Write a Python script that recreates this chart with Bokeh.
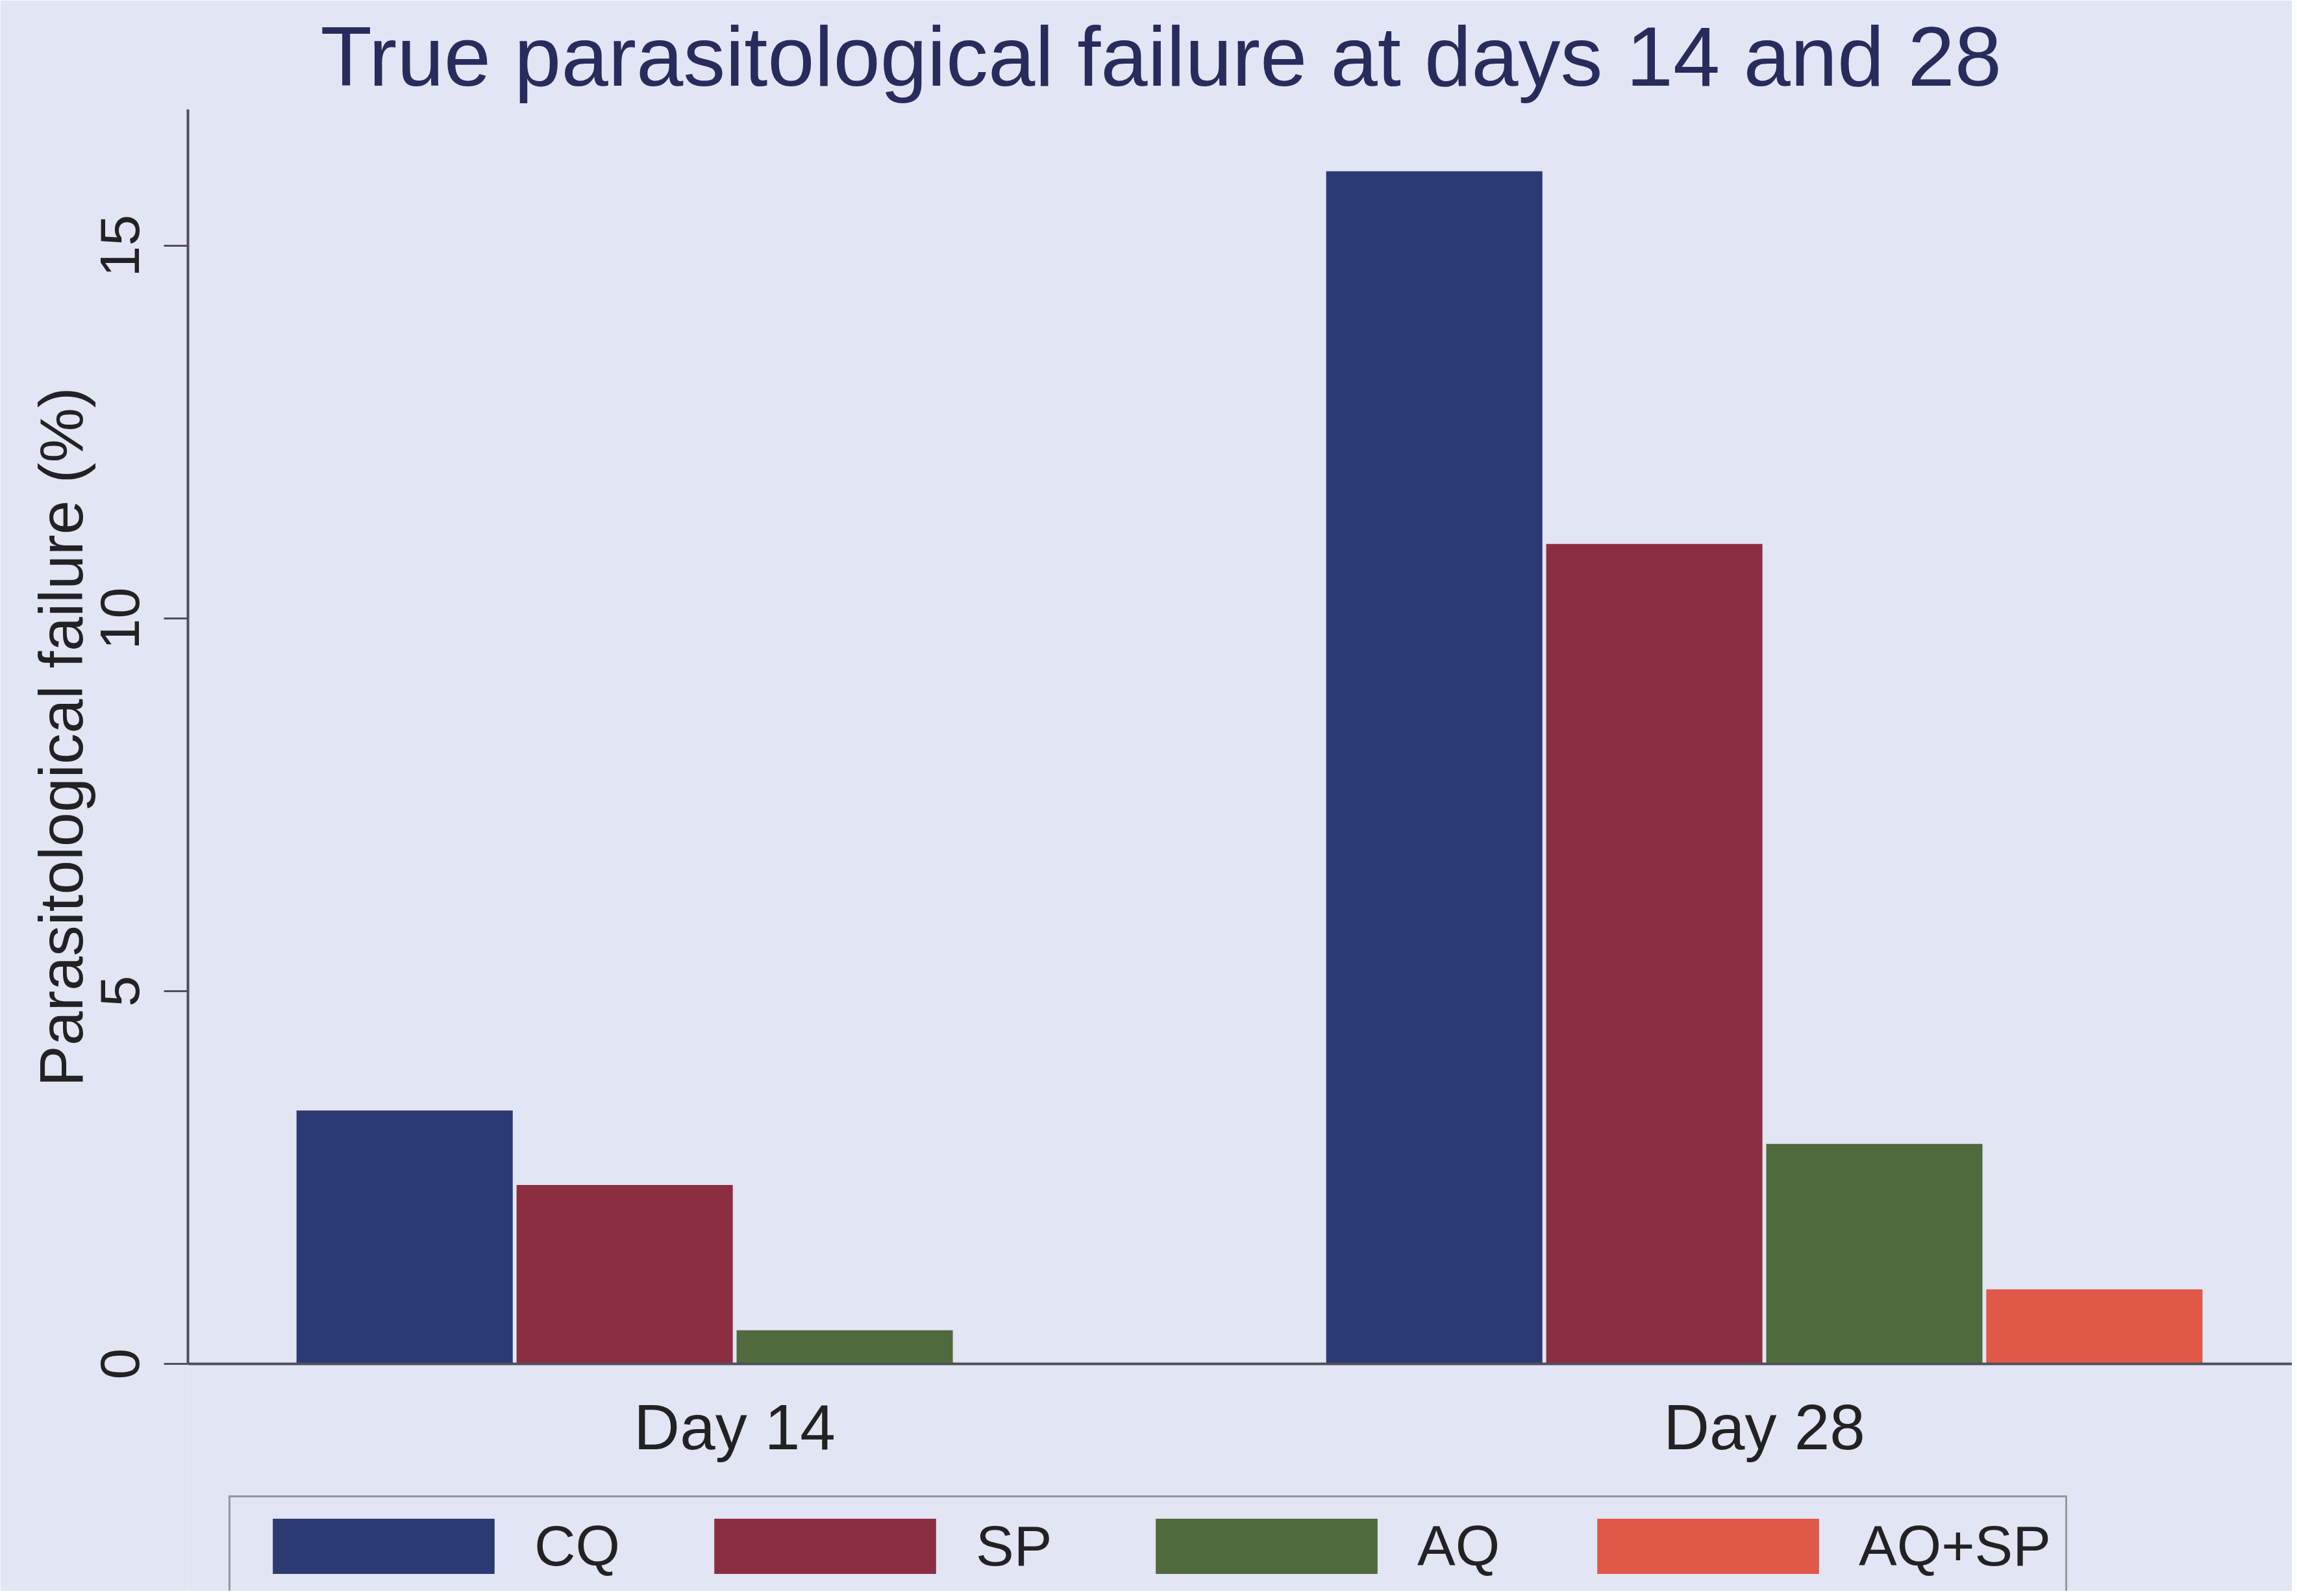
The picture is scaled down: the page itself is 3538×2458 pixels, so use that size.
from bokeh.plotting import figure
from bokeh.models import ColumnDataSource, Range1d, FixedTicker, Legend, LegendItem, Title
from bokeh.embed import file_html
from bokeh.resources import INLINE

# ---- data ----
days = ["Day 14", "Day 28"]
drugs = ["CQ", "SP", "AQ", "AQ+SP"]
cq = [3.4, 16.0]
sp = [2.4, 11.0]
aq = [0.45, 2.95]
aq_sp = [0.0, 1.0]
y_ticks = [0, 5, 10, 15]

series = [cq, sp, aq, aq_sp]
colors = ["#2c3a73", "#8c2e42", "#4f6a3c", "#e05848"]

BG = "#e2e5f3"
FONT = "Liberation Sans"
step = 0.2137      # spacing between dodged bars (in category units)
bar_w = 0.21
y_top = 16.83
y_bottom = -3.049  # room below the axis for tick labels and legend

p = figure(width=3530, height=2450, output_backend="svg", toolbar_location=None,
           x_range=Range1d(-0.031, 2.0126), y_range=Range1d(y_bottom, y_top),
           min_border_left=289, min_border_right=0, min_border_top=168,
           min_border_bottom=0,
           background_fill_color=BG, border_fill_color=BG, outline_line_color=None)

p.title.text = "True parasitological failure at days 14 and 28"
p.title.text_font = FONT
p.title.text_font_size = "130px"
p.title.text_font_style = "normal"
p.title.text_color = "#272c5c"
p.title.align = "left"
p.title.offset = 204
p.title.standoff = 18

items = []
for j, (name, vals, col) in enumerate(zip(drugs, series, colors)):
    xs = [i + 0.5 + (j - (len(drugs) - 1) / 2) * step for i in range(len(days))]
    src = ColumnDataSource(dict(x=xs, top=vals))
    r = p.vbar(x="x", top="top", bottom=0, width=bar_w, source=src,
               fill_color=col, line_color=None)
    items.append(LegendItem(label=name, renderers=[r]))

p.xgrid.visible = False
p.ygrid.visible = False

# x axis, drawn at y = 0
xa = p.xaxis[0]
xa.fixed_location = 0
xa.ticker = FixedTicker(ticks=[i + 0.5 for i in range(len(days))])
xa.major_label_overrides = {i + 0.5: d for i, d in enumerate(days)}
xa.major_tick_out = 0
xa.major_tick_in = 0
xa.minor_tick_out = 0
xa.minor_tick_in = 0
xa.major_label_standoff = 43
xa.major_label_text_font = FONT
xa.major_label_text_font_size = "98px"
xa.major_label_text_color = "#222222"
xa.axis_line_color = "#4f4f5a"
xa.axis_line_width = 4

# y axis
ya = p.yaxis[0]
ya.bounds = (0, y_top)
ya.ticker = FixedTicker(ticks=y_ticks)
ya.major_tick_out = 37
ya.major_tick_in = 0
ya.minor_tick_out = 0
ya.minor_tick_in = 0
ya.major_tick_line_width = 3
ya.major_tick_line_color = "#4f4f5a"
ya.axis_line_color = "#4f4f5a"
ya.axis_line_width = 4
ya.major_label_orientation = "vertical"
ya.major_label_standoff = 38
ya.major_label_text_font = FONT
ya.major_label_text_font_size = "86px"
ya.major_label_text_color = "#222222"

# y axis title, centred on the 0..max part of the axis
ytitle = Title(text="Parasitological failure (%)", align="left", offset=777,
               standoff=12, text_font=FONT, text_font_size="95px",
               text_font_style="normal", text_color="#222222")
p.add_layout(ytitle, "left")

legend = Legend(items=items, orientation="horizontal", location=(63, -9),
                glyph_width=427, glyph_height=106, label_standoff=19,
                label_width=234, spacing=0, padding=22, margin=0,
                border_line_color="#4a4a4a", border_line_width=3,
                background_fill_color=BG, background_fill_alpha=1.0,
                label_text_font=FONT, label_text_font_size="88px",
                label_text_color="#222222")
p.add_layout(legend, "center")

open("out.html", "w").write(file_html(p, INLINE))
